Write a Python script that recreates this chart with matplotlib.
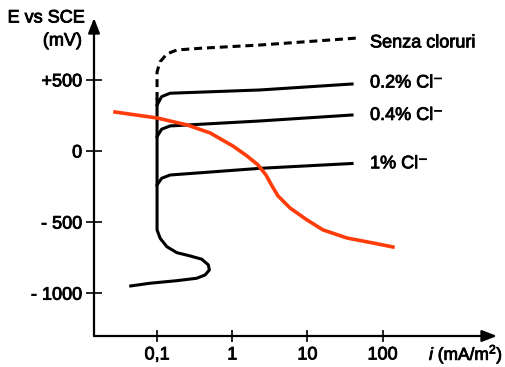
import matplotlib.pyplot as plt
import matplotlib.patheffects as pe
from matplotlib.ticker import NullLocator

plt.rcParams['font.family'] = ['Liberation Sans', 'DejaVu Sans']
plt.rcParams['mathtext.fontset'] = 'custom'
plt.rcParams['mathtext.rm'] = 'Liberation Sans'
plt.rcParams['mathtext.it'] = 'Liberation Sans:italic'

# current density i (mA/m^2) and potential E (mV vs SCE)
# anodic curve, solid part (bottom loop + passive vertical)
i_base = [0.0447, 0.0807, 0.183, 0.337, 0.435, 0.496, 0.481, 0.393, 0.275,
          0.183, 0.135, 0.110, 0.1, 0.1]
e_base = [-949, -930, -912, -895, -872, -837, -801, -761, -738,
          -715, -673, -614, -555, 359]

# no chloride (dashed)
i_senza = [0.1, 0.1, 0.110, 0.135, 0.183, 0.373, 2.34, 45.7]
e_senza = [359, 557, 628, 682, 710, 722, 745, 794]

# pitting branches
i_branch = [0.1, 0.115, 0.149, 2.34, 39.2]
e_02 = [323, 382, 406, 429, 471]
e_04 = [101, 153, 176, 211, 253]
e_1 = [-239, -192, -169, -122, -88]

# cathodic curve (red)
i_cat = [0.0276, 0.100, 0.251, 0.507, 1.02, 1.57, 2.20, 2.81, 3.38, 4.06,
         5.87, 9.88, 16.1, 33.6, 74.5, 137]
e_cat = [274, 232, 183, 127, 35, -35, -98, -169, -246, -316,
         -401, -485, -555, -612, -647, -675]

labels = ['Senza cloruri', '0.2% Cl⁻', '0.4% Cl⁻', '1% Cl⁻']
label_e = [760, 478, 250, -90]

xticks = [0.1, 1, 10, 100]
xticklabels = ['0,1', '1', '10', '100']
yticks = [500, 0, -500, -1000]
yticklabels = ['+500', '0', '- 500', '- 1000']

fig = plt.figure(figsize=(5.05, 3.67), dpi=100)
ax = fig.add_axes([94/505, 31/367, 403/505, 318/367])
ax.set_xscale('log')
ax.set_xlim(0.0145, 3320)
ax.set_ylim(-1301, 935)

lw = 2.2
ax.plot(i_base, e_base, color='black', lw=lw, solid_joinstyle='round')
ax.plot(i_senza, e_senza, color='black', lw=lw, dashes=(2.6, 1.6))
for e in (e_02, e_04, e_1):
    ax.plot(i_branch, e, color='black', lw=lw, solid_joinstyle='round')
ax.plot(i_cat, e_cat, color='#ff3c0a', lw=2.6, solid_joinstyle='round')

bold = [pe.withStroke(linewidth=0.6, foreground='black')]
fs = 13

for lab, e in zip(labels, label_e):
    ax.text(68, e, lab, fontsize=fs, va='center', ha='left', path_effects=bold)

for s in ax.spines.values():
    s.set_visible(False)
for tip in [(0, 1), (1, 0)]:
    ax.annotate('', xy=tip, xytext=(0, 0), xycoords='axes fraction',
                arrowprops=dict(arrowstyle='-|>,head_length=0.9,head_width=0.35',
                                lw=1.6, color='black', shrinkA=0, shrinkB=0))

ax.set_xticks(xticks)
ax.set_xticklabels(xticklabels)
ax.xaxis.set_minor_locator(NullLocator())
ax.set_yticks(yticks)
ax.set_yticklabels(yticklabels)
ax.tick_params(axis='x', direction='inout', length=9, width=1.2, labelsize=fs, pad=3)
ax.tick_params(axis='y', direction='inout', length=11, width=1.2, labelsize=fs, pad=3)
for t in ax.get_xticklabels() + ax.get_yticklabels():
    t.set_path_effects(bold)

fig.text(46/505, 1 - 18/367, 'E vs SCE', fontsize=fs, va='center', ha='center', path_effects=bold)
fig.text(82/505, 1 - 41/367, '(mV)', fontsize=fs, va='center', ha='right', path_effects=bold)
fig.text(503/505, 1 - 354/367, r'$i$ (mA/m$^2$)', fontsize=12.5, va='center', ha='right', path_effects=bold)

fig.savefig('out.png', dpi=100)
